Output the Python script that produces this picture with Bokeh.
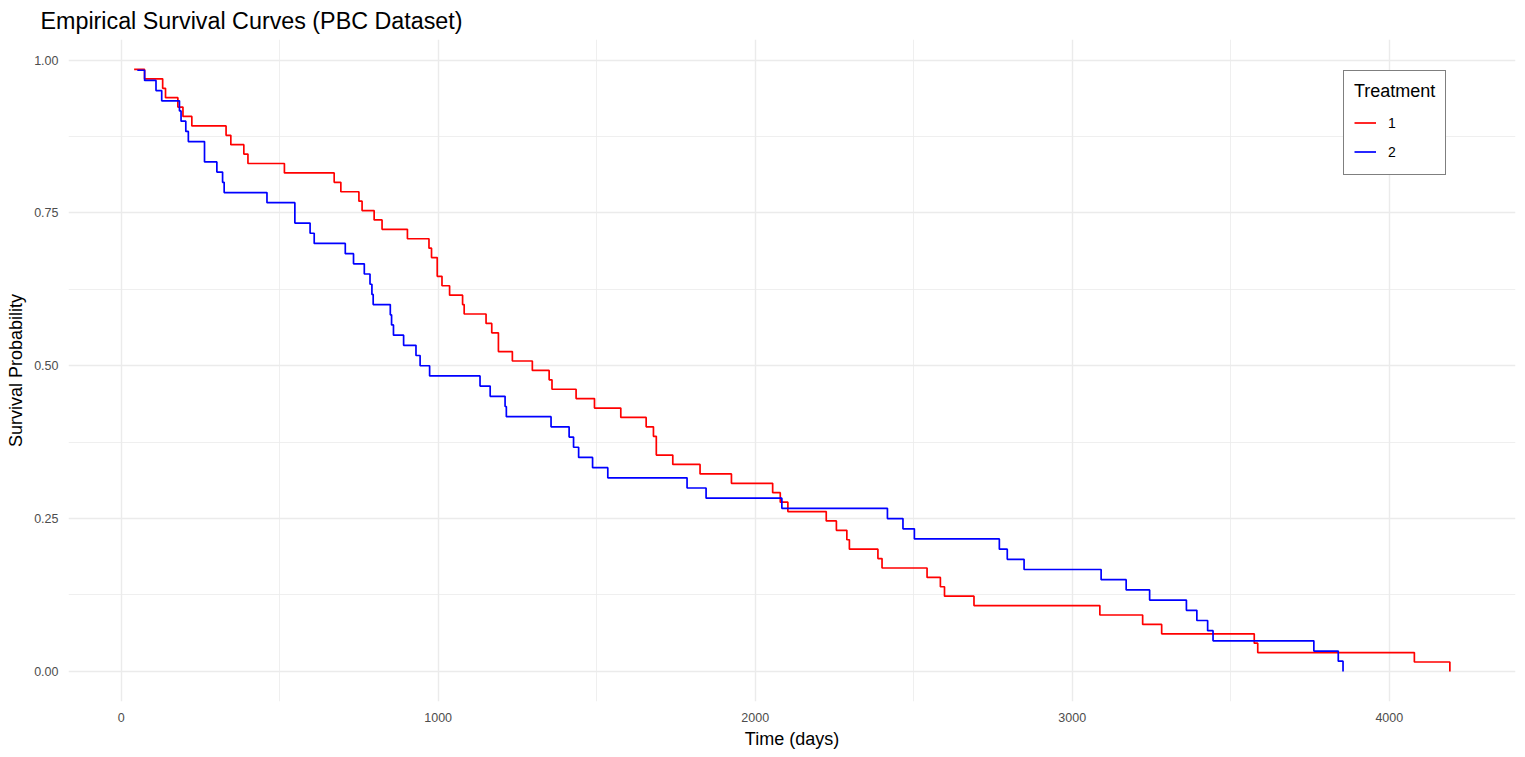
from bokeh.plotting import figure
from bokeh.models import Range1d, FixedTicker, Legend, LegendItem, CustomJSTickFormatter
from bokeh.embed import file_html
from bokeh.resources import INLINE

# Treatment 1 (red): event times (days) and survival after each event
red_time = [41, 74, 131, 140, 179, 195, 223, 331, 346, 387, 400, 515, 672, 693, 750, 760,
            798, 823, 903, 971, 979, 997, 1012, 1036, 1077, 1082, 1151, 1169, 1190, 1234,
            1297, 1350, 1359, 1435, 1493, 1576, 1656, 1679, 1688, 1740, 1826, 1925, 2055,
            2079, 2103, 2224, 2256, 2289, 2297, 2387, 2400, 2542, 2584, 2597, 2690, 3087,
            3222, 3282, 3574, 3585, 4079, 4191]
red_surv = [0.9846, 0.9692, 0.9538, 0.9385, 0.9231, 0.9077, 0.8923, 0.8769, 0.8615, 0.8462,
            0.8308, 0.8154, 0.8000, 0.7846, 0.7692, 0.7538, 0.7385, 0.7231, 0.7077, 0.6923,
            0.6769, 0.6462, 0.6308, 0.6154, 0.6000, 0.5846, 0.5692, 0.5538, 0.5231, 0.5077,
            0.4923, 0.4769, 0.4615, 0.4462, 0.4308, 0.4154, 0.4000, 0.3846, 0.3538, 0.3385,
            0.3231, 0.3077, 0.2923, 0.2769, 0.2615, 0.2462, 0.2308, 0.2154, 0.2000, 0.1846,
            0.1692, 0.1538, 0.1385, 0.1231, 0.1077, 0.0923, 0.0769, 0.0615, 0.0462, 0.0308,
            0.0154, 0.0]

# Treatment 2 (blue)
blue_time = [51, 74, 110, 128, 184, 189, 204, 212, 263, 302, 320, 325, 460, 548, 596, 609,
             707, 733, 767, 785, 791, 795, 849, 853, 859, 891, 930, 943, 973, 1132, 1164,
             1211, 1215, 1356, 1413, 1427, 1443, 1487, 1535, 1785, 1845, 2084, 2417, 2466,
             2502, 2770, 2795, 2848, 3091, 3170, 3244, 3360, 3393, 3427, 3444, 3762, 3839, 3854]
blue_surv = [0.9833, 0.9667, 0.9500, 0.9333, 0.9167, 0.9000, 0.8833, 0.8667, 0.8333, 0.8167,
             0.8000, 0.7833, 0.7667, 0.7333, 0.7167, 0.7000, 0.6833, 0.6667, 0.6500, 0.6333,
             0.6167, 0.6000, 0.5833, 0.5667, 0.5500, 0.5333, 0.5167, 0.5000, 0.4833, 0.4667,
             0.4500, 0.4333, 0.4167, 0.4000, 0.3833, 0.3667, 0.3500, 0.3333, 0.3167, 0.3000,
             0.2833, 0.2667, 0.2500, 0.2333, 0.2167, 0.2000, 0.1833, 0.1667, 0.1500, 0.1333,
             0.1167, 0.1000, 0.0833, 0.0667, 0.0500, 0.0333, 0.0167, 0.0]

x_ticks = [0, 1000, 2000, 3000, 4000]
x_minor = [500, 1500, 2500, 3500]
y_ticks = [0.0, 0.25, 0.5, 0.75, 1.0]
y_minor = [0.125, 0.375, 0.625, 0.875]
series_labels = ["1", "2"]
series_colors = ["#FF0000", "#0000FF"]

FONT = "Liberation Sans"

p = figure(width=1525, height=757, output_backend="svg", toolbar_location=None,
           x_range=Range1d(-166, 4398), y_range=Range1d(-0.0492, 1.0336),
           min_border_left=68, min_border_right=10, min_border_top=39, min_border_bottom=56,
           title="Empirical Survival Curves (PBC Dataset)")
p.outline_line_color = None
p.background_fill_color = "white"
p.border_fill_color = "white"

p.title.text_font = FONT
p.title.text_font_size = "23.3px"
p.title.text_font_style = "normal"
p.title.text_color = "black"
p.title.offset = -28
p.title.standoff = 11

p.xaxis.ticker = FixedTicker(ticks=x_ticks, minor_ticks=x_minor)
p.yaxis.ticker = FixedTicker(ticks=y_ticks, minor_ticks=y_minor)
p.yaxis.formatter = CustomJSTickFormatter(code="return tick.toFixed(2);")

for ax in (p.xaxis, p.yaxis):
    ax.axis_line_color = None
    ax.major_tick_line_color = None
    ax.minor_tick_line_color = None
    ax.major_label_text_font = FONT
    ax.major_label_text_font_size = "12.5px"
    ax.major_label_text_color = "#4D4D4D"
    ax.axis_label_text_font = FONT
    ax.axis_label_text_font_size = "18px"
    ax.axis_label_text_font_style = "normal"
    ax.axis_label_text_color = "black"

p.xaxis.axis_label = "Time (days)"
p.yaxis.axis_label = "Survival Probability"
p.xaxis.major_label_standoff = 5
p.yaxis.major_label_standoff = 4
p.xaxis.axis_label_standoff = 4
p.yaxis.axis_label_standoff = 5

for g in (p.xgrid, p.ygrid):
    g.grid_line_color = "#EBEBEB"
    g.grid_line_width = 1.4
    g.minor_grid_line_color = "#EBEBEB"
    g.minor_grid_line_width = 0.8

r1 = p.step(red_time, red_surv, mode="after", line_color=series_colors[0], line_width=1.7)
r2 = p.step(blue_time, blue_surv, mode="after", line_color=series_colors[1], line_width=1.7)

legend = Legend(items=[LegendItem(label=series_labels[0], renderers=[r1]),
                       LegendItem(label=series_labels[1], renderers=[r2])],
                location=(1275, 526), title="Treatment")
legend.title_text_font = FONT
legend.title_text_font_size = "18px"
legend.title_text_font_style = "normal"
legend.title_text_color = "black"
legend.title_standoff = 8
legend.label_text_font = FONT
legend.label_text_font_size = "14px"
legend.label_text_color = "black"
legend.glyph_width = 22
legend.glyph_height = 25
legend.label_height = 25
legend.label_standoff = 12
legend.spacing = 4
legend.padding = 10
legend.margin = 0
legend.border_line_color = "black"
legend.border_line_width = 1.5
legend.background_fill_color = "white"
legend.background_fill_alpha = 1.0
p.add_layout(legend)

open("out.html", "w").write(file_html(p, INLINE))
